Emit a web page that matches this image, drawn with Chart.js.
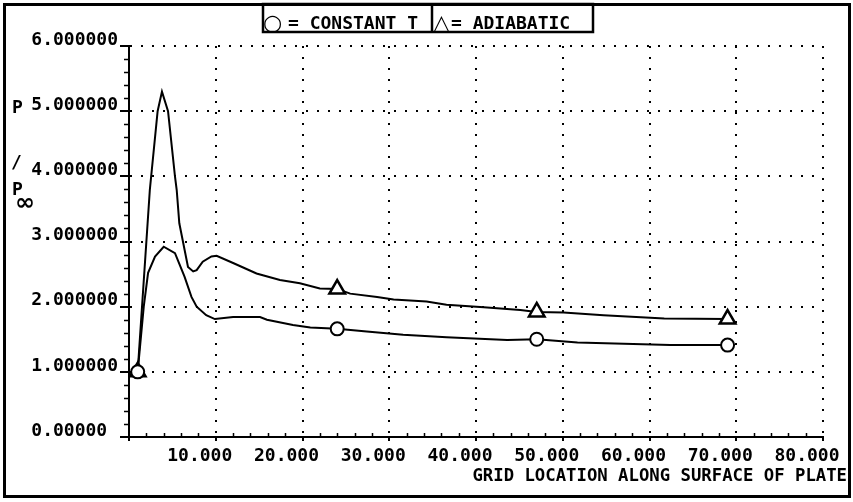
<!DOCTYPE html>
<html lang="en">
<head>
<meta charset="UTF-8">
<title>P / P-infinity along surface of plate</title>
<script src="https://cdn.jsdelivr.net/npm/chart.js"></script>
<style>
  body { margin: 0; background: #fff; }
</style>
</head>
<body>
<canvas id="plateChart" width="853" height="502"></canvas>
<script>
// constant wall temperature (circles)
const constX = [1.0, 1.7, 2.2, 3.0, 4.0, 5.3, 6.4, 7.2, 7.8, 8.9, 9.9, 12.0, 15.1, 15.9, 18.9, 20.9, 24.0, 27.4, 31.6, 36.6, 43.6, 47.0, 51.7, 62.4, 69.0];
const constY = [1.00, 2.00, 2.52, 2.77, 2.92, 2.82, 2.46, 2.15, 2.00, 1.87, 1.81, 1.84, 1.84, 1.80, 1.72, 1.68, 1.66, 1.62, 1.57, 1.53, 1.49, 1.50, 1.45, 1.41, 1.41];
// adiabatic wall (triangles)
const adiaX = [1.0, 2.4, 3.3, 3.8, 4.5, 5.3, 5.5, 5.8, 6.8, 7.4, 7.8, 8.5, 9.5, 10.1, 12.0, 14.7, 17.4, 19.7, 22.0, 24.0, 25.5, 28.6, 30.5, 34.3, 36.6, 40.9, 45.1, 47.0, 50.1, 54.7, 61.7, 69.0];
const adiaY = [1.00, 3.79, 5.00, 5.30, 5.00, 4.00, 3.79, 3.28, 2.61, 2.54, 2.56, 2.69, 2.77, 2.78, 2.67, 2.51, 2.41, 2.36, 2.28, 2.27, 2.20, 2.15, 2.11, 2.08, 2.03, 1.99, 1.95, 1.92, 1.91, 1.87, 1.82, 1.81];
// points that carry a symbol
const markerX = [1.0, 24.0, 47.0, 69.0];

const xTickLabels = ['', '10.000', '20.000', '30.000', '40.000', '50.000', '60.000', '70.000', '80.000'];
const yTickLabels = ['0.00000 ', '1.000000', '2.000000', '3.000000', '4.000000', '5.000000', '6.000000'];

const toPoints = (xs, ys) => xs.map((x, i) => ({x: x, y: ys[i]}));
const markerRadius = r => ctx => markerX.includes(ctx.raw.x) ? r : 0;

const decorations = {
    id: 'decorations',
    afterDraw(chart) {
        const ctx = chart.ctx;
        const xs = chart.scales.x, ys = chart.scales.y;
        ctx.save();
        ctx.strokeStyle = '#000';
        ctx.fillStyle = '#000';

        // minor ticks
        ctx.lineWidth = 1.5;
        ctx.beginPath();
        for (let i = 1; i < 30; i++) {
            if (i % 5 === 0) continue;
            const y = Math.round(ys.getPixelForValue(i / 5)) + 0.5;
            ctx.moveTo(xs.left - 5, y);
            ctx.lineTo(xs.left, y);
        }
        for (let i = 1; i < 40; i++) {
            if (i % 5 === 0) continue;
            const x = Math.round(xs.getPixelForValue(i * 2)) + 0.5;
            ctx.moveTo(x, ys.bottom);
            ctx.lineTo(x, ys.bottom - 4);
        }
        ctx.stroke();

        // outer frame
        ctx.lineWidth = 3;
        ctx.strokeRect(4.5, 4.5, 845, 492);

        // legend box
        ctx.lineWidth = 2.5;
        ctx.strokeRect(263, 4, 330, 28);
        ctx.beginPath();
        ctx.moveTo(432, 4);
        ctx.lineTo(432, 32);
        ctx.stroke();
        ctx.textBaseline = 'alphabetic';
        ctx.font = 'bold 22px "DejaVu Sans"';
        ctx.fillText('○', 263, 30);
        ctx.fillText('△', 433, 30);
        ctx.font = 'bold 18px "DejaVu Sans Mono"';
        ctx.fillText('= CONSTANT T', 288, 29);
        ctx.fillText('= ADIABATIC', 451, 29);

        // y axis title  P / P∞
        ctx.fillText('P', 12, 113);
        ctx.fillText('/', 11, 168);
        ctx.fillText('P', 12, 195);
        ctx.font = 'bold 24px "DejaVu Sans"';
        ctx.fillText('∞', 15, 210);

        // x axis title
        ctx.font = 'bold 17.3px "DejaVu Sans Mono"';
        ctx.textAlign = 'right';
        ctx.fillText('GRID LOCATION ALONG SURFACE OF PLATE', 847, 481);
        ctx.restore();
    }
};

Chart.defaults.font.family = '"DejaVu Sans Mono", monospace';
Chart.defaults.font.weight = 'bold';
Chart.defaults.font.size = 18;
Chart.defaults.color = '#000';

new Chart(document.getElementById('plateChart'), {
    type: 'line',
    data: {
        datasets: [{
            label: 'CONSTANT T',
            data: toPoints(constX, constY),
            borderColor: '#000',
            borderWidth: 2,
            backgroundColor: '#fff',
            pointStyle: 'circle',
            pointRadius: markerRadius(6.5),
            pointBorderWidth: 2,
            pointHoverRadius: 0,
            tension: 0
        }, {
            label: 'ADIABATIC',
            data: toPoints(adiaX, adiaY),
            borderColor: '#000',
            borderWidth: 2,
            backgroundColor: '#fff',
            pointStyle: 'triangle',
            pointRadius: markerRadius(9),
            pointBorderWidth: 2.5,
            pointHoverRadius: 0,
            tension: 0
        }]
    },
    options: {
        responsive: false,
        animation: false,
        events: [],
        layout: { padding: { left: 0, top: 46, right: 30, bottom: 0 } },
        plugins: {
            legend: { display: false },
            tooltip: { enabled: false }
        },
        scales: {
            x: {
                type: 'linear',
                min: 0,
                max: 80,
                afterFit: s => { s.height = 65; s.paddingLeft = 0; s.paddingRight = 0; },
                ticks: {
                    stepSize: 10,
                    autoSkip: false,
                    maxRotation: 0,
                    padding: 5,
                    labelOffset: -16,
                    callback: v => xTickLabels[Math.round(v / 10)]
                },
                grid: { color: '#000', lineWidth: 2, tickLength: 4, tickColor: '#000', tickWidth: 2 },
                border: { display: true, color: '#000', width: 2, dash: [2, 9] }
            },
            y: {
                min: 0,
                max: 6,
                afterFit: s => { s.width = 129; s.paddingTop = 0; s.paddingBottom = 0; },
                ticks: {
                    stepSize: 1,
                    padding: 2,
                    labelOffset: -6,
                    callback: v => yTickLabels[Math.round(v)]
                },
                grid: { color: '#000', lineWidth: 2, tickLength: 9, tickColor: '#000', tickWidth: 2 },
                border: { display: true, color: '#000', width: 2, dash: [2, 9] }
            }
        }
    },
    plugins: [decorations]
});
</script>
</body>
</html>
